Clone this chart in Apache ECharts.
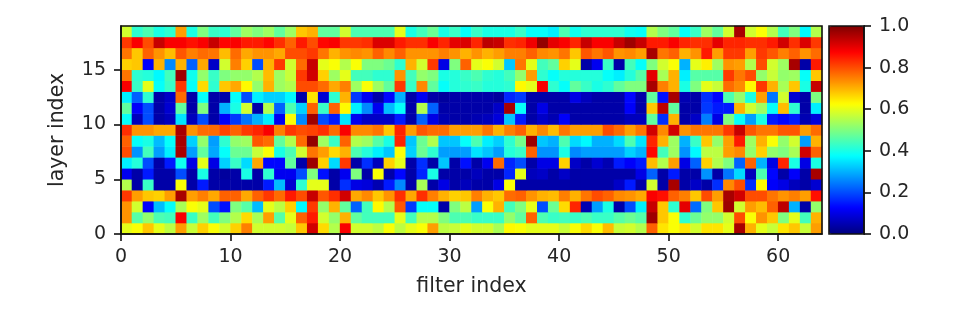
<!DOCTYPE html>
<html><head><meta charset="utf-8">
<script src="https://cdn.jsdelivr.net/npm/echarts@6/dist/echarts.min.js"></script>
<style>html,body{margin:0;padding:0;background:#fff}#c{width:958px;height:310px}</style></head>
<body><div id="c"></div>
<script>
const row18=[.58,.42,.45,.40,.42,.72,.40,.50,.43,.42,.47,.53,.50,.53,.47,.53,.68,.70,.47,.47,.58,.45,.45,.45,.45,.60,.40,.44,.48,.40,.43,.38,.43,.40,.40,.40,.43,.38,.38,.36,.45,.39,.42,.42,.42,.42,.39,.38,.55,.50,.47,.38,.43,.53,.47,.58,.96,.58,.62,.55,.44,.50,.37,.55];
const row17=[.82,.88,.80,.93,.88,.88,.86,.88,.93,.87,.88,.85,.85,.87,.83,.78,.85,.80,.87,.88,.82,.82,.83,.91,.91,.85,.83,.83,.88,.84,.90,.91,.84,.94,.93,.83,.84,.89,.98,.90,.88,.84,.93,.88,.88,.93,.97,.93,.85,.85,.88,.84,.83,.83,.90,.84,.84,.83,.83,.85,.92,.83,.91,.82];
const row16=[.76,.68,.78,.73,.69,.79,.75,.77,.76,.69,.77,.71,.73,.73,.71,.80,.80,.82,.76,.70,.73,.74,.73,.78,.74,.78,.73,.73,.73,.75,.73,.70,.73,.70,.72,.75,.75,.78,.74,.73,.76,.68,.79,.76,.79,.73,.74,.72,.96,.76,.78,.70,.73,.85,.72,.82,.82,.72,.82,.79,.75,.78,.73,.77];
const row15=[.67,.68,.12,.70,.26,.70,.22,.71,.07,.58,.75,.67,.20,.70,.82,.58,.77,.93,.60,.62,.55,.62,.50,.50,.48,.42,.70,.58,.82,.10,.50,.78,.60,.62,.58,.32,.76,.60,.44,.47,.67,.60,.04,.11,.43,.04,.44,.38,.50,.58,.62,.30,.60,.64,.53,.73,.72,.55,.80,.58,.53,.96,.04,.85];
const row14=[.76,.42,.41,.37,.44,.97,.39,.52,.43,.50,.52,.52,.55,.69,.53,.57,.82,.92,.67,.53,.60,.44,.44,.42,.42,.73,.44,.52,.50,.40,.41,.43,.45,.42,.41,.44,.52,.72,.42,.38,.41,.41,.41,.41,.38,.36,.41,.46,.90,.54,.70,.36,.46,.46,.46,.82,.76,.80,.52,.57,.52,.53,.38,.68];
const row13=[.88,.43,.60,.38,.43,.82,.38,.66,.42,.68,.71,.63,.52,.70,.53,.55,.80,.80,.77,.71,.75,.53,.62,.53,.47,.82,.43,.74,.47,.38,.41,.42,.43,.41,.41,.42,.63,.60,.88,.42,.38,.47,.43,.40,.42,.47,.50,.50,.96,.75,.70,.40,.50,.60,.57,.77,.74,.63,.82,.70,.54,.68,.40,.93];
const row12=[.36,.22,.42,.04,.07,.77,.04,.38,.04,.04,.38,.20,.36,.33,.33,.37,.04,.65,.08,.42,.70,.18,.11,.04,.13,.30,.04,.11,.04,.03,.04,.04,.04,.04,.03,.16,.18,.04,.04,.04,.04,.10,.06,.04,.04,.04,.13,.04,.47,.14,.96,.05,.04,.17,.13,.45,.52,.40,.72,.24,.58,.08,.04,.50];
const row11=[.47,.12,.20,.04,.08,.47,.04,.50,.04,.30,.40,.58,.04,.55,.22,.45,.33,.78,.43,.78,.63,.36,.26,.11,.31,.38,.04,.55,.22,.04,.04,.04,.04,.04,.07,.96,.38,.04,.10,.04,.04,.04,.04,.04,.04,.04,.12,.04,.68,.94,.47,.04,.04,.18,.15,.15,.70,.58,.53,.38,.69,.42,.04,.36];
const row10=[.38,.06,.20,.04,.06,.35,.06,.20,.04,.12,.18,.24,.30,.36,.11,.62,.26,.97,.20,.15,.35,.11,.07,.07,.07,.15,.04,.22,.10,.05,.04,.04,.05,.06,.09,.32,.15,.04,.07,.05,.12,.04,.04,.04,.04,.04,.06,.06,.47,.17,.70,.04,.07,.25,.10,.50,.38,.28,.40,.15,.13,.15,.05,.09];
const row09=[.83,.73,.73,.71,.71,.96,.73,.77,.77,.81,.78,.82,.84,.88,.75,.82,.80,.81,.83,.77,.88,.74,.74,.76,.68,.84,.72,.79,.77,.77,.72,.72,.72,.76,.70,.75,.78,.70,.74,.69,.76,.72,.72,.72,.80,.77,.72,.76,.92,.74,.92,.73,.76,.76,.76,.82,.93,.79,.76,.76,.79,.79,.72,.77];
const row08=[.78,.38,.40,.31,.38,.96,.33,.52,.28,.42,.52,.53,.79,.77,.47,.55,.77,.98,.53,.43,.78,.55,.53,.46,.40,.84,.32,.48,.55,.32,.32,.38,.45,.36,.33,.42,.49,.97,.32,.30,.45,.34,.37,.30,.30,.34,.45,.35,.84,.70,.53,.30,.43,.68,.52,.72,.85,.53,.70,.62,.52,.58,.28,.70];
const row07=[.80,.27,.44,.28,.36,.96,.28,.47,.29,.38,.48,.48,.57,.62,.40,.45,.58,.76,.72,.66,.70,.45,.41,.36,.32,.62,.33,.48,.42,.28,.28,.28,.35,.32,.28,.41,.43,.78,.27,.27,.40,.26,.28,.28,.28,.28,.33,.30,.87,.44,.53,.27,.37,.56,.56,.72,.74,.52,.67,.52,.50,.54,.92,.78];
const row06=[.36,.41,.20,.04,.15,.39,.10,.60,.10,.33,.43,.34,.71,.13,.13,.47,.04,.97,.67,.34,.82,.04,.17,.06,.67,.60,.04,.17,.04,.32,.04,.14,.04,.11,.77,.16,.20,.04,.10,.10,.67,.07,.04,.08,.05,.15,.12,.15,.69,.55,.72,.10,.22,.67,.55,.50,.22,.78,.30,.10,.84,.40,.10,.40];
const row05=[.11,.04,.15,.04,.04,.20,.04,.40,.04,.03,.04,.40,.04,.42,.11,.11,.20,.50,.14,.04,.11,.50,.04,.62,.04,.13,.04,.16,.40,.04,.04,.04,.06,.04,.04,.16,.60,.06,.07,.04,.07,.04,.04,.04,.04,.04,.04,.10,.22,.04,.15,.04,.04,.27,.04,.24,.34,.06,.45,.13,.04,.12,.04,.96];
const row04=[.55,.04,.43,.04,.04,.62,.04,.15,.04,.04,.04,.04,.04,.15,.31,.08,.42,.60,.60,.04,.17,.10,.09,.05,.15,.26,.04,.54,.04,.10,.04,.06,.04,.04,.10,.62,.04,.04,.04,.04,.04,.04,.04,.04,.04,.07,.15,.04,.58,.04,.96,.04,.07,.04,.17,.74,.80,.17,.63,.12,.10,.06,.04,.08];
const row03=[.82,.72,.68,.67,.72,.96,.72,.75,.71,.78,.78,.71,.78,.82,.77,.85,.80,.93,.79,.83,.92,.71,.74,.68,.73,.83,.71,.83,.75,.70,.67,.68,.75,.70,.68,.77,.78,.73,.70,.69,.75,.70,.76,.80,.78,.74,.73,.71,.88,.86,.78,.75,.68,.80,.72,.96,.92,.80,.80,.76,.73,.75,.72,.86];
const row02=[.73,.58,.12,.31,.38,.54,.62,.60,.20,.14,.50,.46,.31,.60,.56,.67,.37,.82,.52,.70,.47,.22,.44,.63,.55,.79,.18,.38,.38,.04,.50,.56,.28,.62,.70,.44,.50,.60,.20,.48,.66,.84,.05,.28,.40,.04,.20,.36,.93,.68,.42,.90,.23,.50,.68,.97,.58,.72,.69,.78,.94,.30,.04,.52];
const row01=[.73,.46,.52,.45,.44,.88,.43,.53,.44,.50,.55,.66,.54,.72,.46,.60,.78,.85,.58,.52,.70,.47,.44,.44,.44,.60,.44,.55,.55,.50,.45,.45,.43,.43,.43,.52,.47,.78,.45,.43,.44,.43,.45,.43,.43,.46,.48,.46,.97,.68,.62,.42,.48,.52,.52,.58,.80,.62,.73,.68,.50,.60,.44,.70];
const row00=[.60,.62,.68,.60,.56,.72,.57,.67,.62,.58,.67,.75,.58,.58,.58,.57,.68,.92,.66,.55,.88,.58,.58,.56,.62,.56,.60,.62,.72,.56,.57,.60,.58,.58,.54,.63,.62,.60,.60,.60,.57,.62,.66,.62,.69,.57,.58,.55,.78,.65,.62,.65,.58,.65,.65,.60,.96,.70,.60,.57,.65,.68,.57,.72];
const rows=[row00,row01,row02,row03,row04,row05,row06,row07,row08,row09,row10,row11,row12,row13,row14,row15,row16,row17,row18];
const filterIndex=row00.map((_,i)=>i);
const layerIndex=rows.map((_,i)=>i);
const xTicks=[0,10,20,30,40,50,60];
const yTicks=[0,5,10,15];
const jet=['#00007f','#0000ff','#007fff','#00ffff','#7fff7f','#ffff00','#ff7f00','#ff0000','#7f0000'];
const cells=[];
rows.forEach((r,y)=>r.forEach((v,x)=>cells.push([x,y,v])));
const ink='#262626';
const font='"DejaVu Sans"';
const lab={color:ink,fontFamily:font,fontSize:19};
const nameLab={color:ink,fontFamily:font,fontSize:20.5};
const line={show:true,onZero:false,lineStyle:{color:'#111',width:1.6}};
const tick={show:true,length:7,lineStyle:{color:'#111',width:1.6}};
const chart=echarts.init(document.getElementById('c'),null,{renderer:'canvas'});
chart.setOption({
 animation:false,
 backgroundColor:'#fff',
 grid:[
  {left:121,top:26,width:701,height:208,show:true,borderColor:'#111',borderWidth:1.6,backgroundColor:'transparent',z:5},
  {left:829,top:26,width:35,height:208,show:true,borderColor:'#111',borderWidth:1.6,backgroundColor:'transparent',z:6}
 ],
 xAxis:[
  {type:'category',gridIndex:0,data:filterIndex,show:false},
  {type:'value',gridIndex:0,position:'bottom',min:0,max:64,interval:10,splitLine:{show:false},axisLine:line,
   axisTick:Object.assign({customValues:xTicks},tick),
   axisLabel:Object.assign({margin:14,customValues:xTicks},lab),name:'filter index',nameLocation:'middle',nameGap:42,nameTextStyle:nameLab,z:6},
  {type:'value',gridIndex:1,min:0,max:1,show:false}
 ],
 yAxis:[
  {type:'category',gridIndex:0,data:layerIndex,show:false},
  {type:'value',gridIndex:0,position:'left',min:0,max:19,interval:5,splitLine:{show:false},axisLine:line,
   axisTick:Object.assign({customValues:yTicks},tick),
   axisLabel:Object.assign({margin:15,customValues:yTicks},lab),name:'layer index',nameLocation:'middle',nameGap:53,nameRotate:90,nameTextStyle:nameLab,z:6},
  {type:'value',gridIndex:1,position:'right',min:0,max:1,interval:0.2,splitLine:{show:false},axisLine:line,axisTick:tick,
   axisLabel:Object.assign({margin:15,formatter:v=>v.toFixed(1)},lab),z:7}
 ],
 visualMap:[{type:'continuous',min:0,max:1,seriesIndex:0,calculable:false,realtime:false,orient:'vertical',
   left:829,top:26,itemWidth:35,itemHeight:208,padding:0,inRange:{color:jet},z:4,hoverLink:false}],
 series:[{type:'heatmap',xAxisIndex:0,yAxisIndex:0,data:cells,progressive:0,itemStyle:{borderWidth:0},emphasis:{disabled:true}}]
});
</script></body></html>
